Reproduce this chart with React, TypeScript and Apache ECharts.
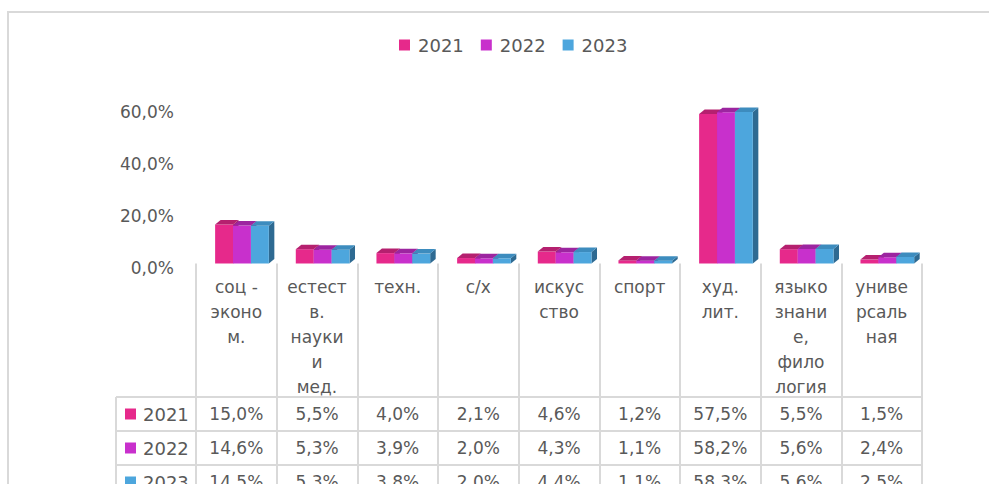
import React, { useEffect, useRef } from "react";
import * as echarts from "echarts";

// ---- data ----
const categories = [
  "соц -\nэконо\nм.",
  "естест\nв.\nнауки\nи\nмед.",
  "техн.",
  "с/х",
  "искус\nство",
  "спорт",
  "худ.\nлит.",
  "языко\nзнани\nе,\nфило\nлогия",
  "униве\nрсаль\nная",
];
const years = ["2021", "2022", "2023"];
const values2021 = [15.0, 5.5, 4.0, 2.1, 4.6, 1.2, 57.5, 5.5, 1.5];
const values2022 = [14.6, 5.3, 3.9, 2.0, 4.3, 1.1, 58.2, 5.6, 2.4];
const values2023 = [14.5, 5.3, 3.8, 2.0, 4.4, 1.1, 58.3, 5.6, 2.5];
const seriesValues = [values2021, values2022, values2023];
const yMin = 0;
const yMax = 60;
const yInterval = 20;

// ---- styles ----
const frontColors = ["#E6298B", "#C830CC", "#4DA6DD"];
const topColors = ["#B5206F", "#9C25A0", "#3D8CBE"];
const sideColors = ["#A51D66", "#8A2090", "#2E6A92"];
const FONT = "DejaVu Sans";
const TEXT = "#595959";
const LINE = "#D9D9D9";

const W = 989;
const H = 484;
const GRID_LEFT = 196;
const GRID_RIGHT = 67;
const GRID_TOP = 107.5;
const GRID_BOTTOM = 220.5;
const TABLE_TOP = 397;
const ROW_H = 34;
const TABLE_LEFT = 116;

const fmt = (v: number) => v.toFixed(1).replace(".", ",") + "%";

function makeRender(s: number) {
  return (params: any, api: any) => {
    const cat = api.value(0) as number;
    const v = api.value(1) as number;
    const base = api.coord([cat, 0]);
    const top = api.coord([cat, v]);
    const catW = api.size([1, 0])[0] as number;
    const bw = catW * 0.222;
    const dx = 5.5;
    const dy = 4.5;
    const x0 = base[0] + catW * 0.07 + (s - 1.5) * bw;
    const x1 = x0 + bw;
    const yT = top[1];
    const yB = base[1];
    return {
      type: "group",
      children: [
        {
          type: "polygon",
          shape: { points: [[x1, yT], [x1 + dx, yT - dy], [x1 + dx, yB - dy], [x1, yB]] },
          style: { fill: sideColors[s] },
        },
        {
          type: "rect",
          shape: { x: x0, y: yT, width: bw, height: yB - yT },
          style: { fill: frontColors[s] },
        },
        {
          type: "polygon",
          shape: { points: [[x0, yT], [x0 + dx, yT - dy], [x1 + dx, yT - dy], [x1, yT]] },
          style: { fill: topColors[s] },
        },
        {
          type: "text",
          x: base[0],
          y: TABLE_TOP + ROW_H * s + ROW_H / 2,
          style: {
            text: fmt(v),
            fill: TEXT,
            fontSize: 17,
            fontFamily: FONT,
            align: "center",
            verticalAlign: "middle",
          },
        },
      ],
    };
  };
}

export default function App() {
  const ref = useRef<HTMLDivElement>(null);
  useEffect(() => {
    document.body.style.margin = "0";
    if (!ref.current) return;
    const chart = echarts.init(ref.current, undefined, { renderer: "svg" });
    const gridRightX = W - GRID_RIGHT;

    const graphic: any[] = [
      {
        type: "rect",
        silent: true,
        z: -10,
        shape: { x: 8, y: 12, width: 1400, height: 900 },
        style: { fill: "none", stroke: LINE, lineWidth: 2 },
      },
      {
        type: "line",
        silent: true,
        shape: { x1: TABLE_LEFT, y1: TABLE_TOP, x2: TABLE_LEFT, y2: H + 10 },
        style: { stroke: LINE, lineWidth: 2 },
      },
    ];
    years.forEach((y, i) => {
      graphic.push({
        type: "line",
        silent: true,
        shape: { x1: TABLE_LEFT, y1: TABLE_TOP + ROW_H * i, x2: gridRightX, y2: TABLE_TOP + ROW_H * i },
        style: { stroke: LINE, lineWidth: 2 },
      });
      const cy = TABLE_TOP + ROW_H * i + ROW_H / 2;
      graphic.push({
        type: "rect",
        silent: true,
        shape: { x: 125, y: cy - 5.5, width: 11, height: 11 },
        style: { fill: frontColors[i] },
      });
      graphic.push({
        type: "text",
        silent: true,
        x: 143,
        y: cy,
        style: {
          text: y,
          fill: TEXT,
          fontSize: 18,
          fontFamily: FONT,
          align: "left",
          verticalAlign: "middle",
        },
      });
    });

    chart.setOption({
      animation: false,
      backgroundColor: "#ffffff",
      textStyle: { fontFamily: FONT },
      legend: {
        data: years,
        icon: "rect",
        itemWidth: 11,
        itemHeight: 11,
        itemGap: 17,
        left: 394,
        top: 31,
        textStyle: { fontSize: 18, color: TEXT, fontFamily: FONT, padding: [0, 0, 0, 3] },
      },
      grid: { left: GRID_LEFT, right: GRID_RIGHT, top: GRID_TOP, bottom: GRID_BOTTOM, containLabel: false },
      xAxis: {
        type: "category",
        data: categories,
        boundaryGap: true,
        offset: 3,
        axisLine: { show: false },
        axisTick: {
          show: true,
          interval: 0,
          length: 230,
          lineStyle: { color: LINE, width: 2 },
        },
        axisLabel: {
          interval: 0,
          margin: 8,
          fontSize: 17,
          lineHeight: 25,
          color: TEXT,
          fontFamily: FONT,
          verticalAlign: "top",
        },
      },
      yAxis: {
        type: "value",
        min: yMin,
        max: yMax,
        interval: yInterval,
        axisLine: { show: false },
        axisTick: { show: false },
        splitLine: { show: false },
        axisLabel: {
          margin: 22,
          fontSize: 17,
          color: TEXT,
          fontFamily: FONT,
          verticalAlign: "top",
          lineHeight: 9,
          formatter: (v: number) => fmt(v),
        },
      },
      graphic,
      series: years.map((y, s) => ({
        type: "custom",
        name: y,
        itemStyle: { color: frontColors[s] },
        encode: { x: 0, y: 1 },
        clip: false,
        data: seriesValues[s].map((v, i) => [i, v]),
        renderItem: makeRender(s),
      })),
    });
    return () => chart.dispose();
  }, []);
  return <div ref={ref} style={{ width: W, height: H }} />;
}
